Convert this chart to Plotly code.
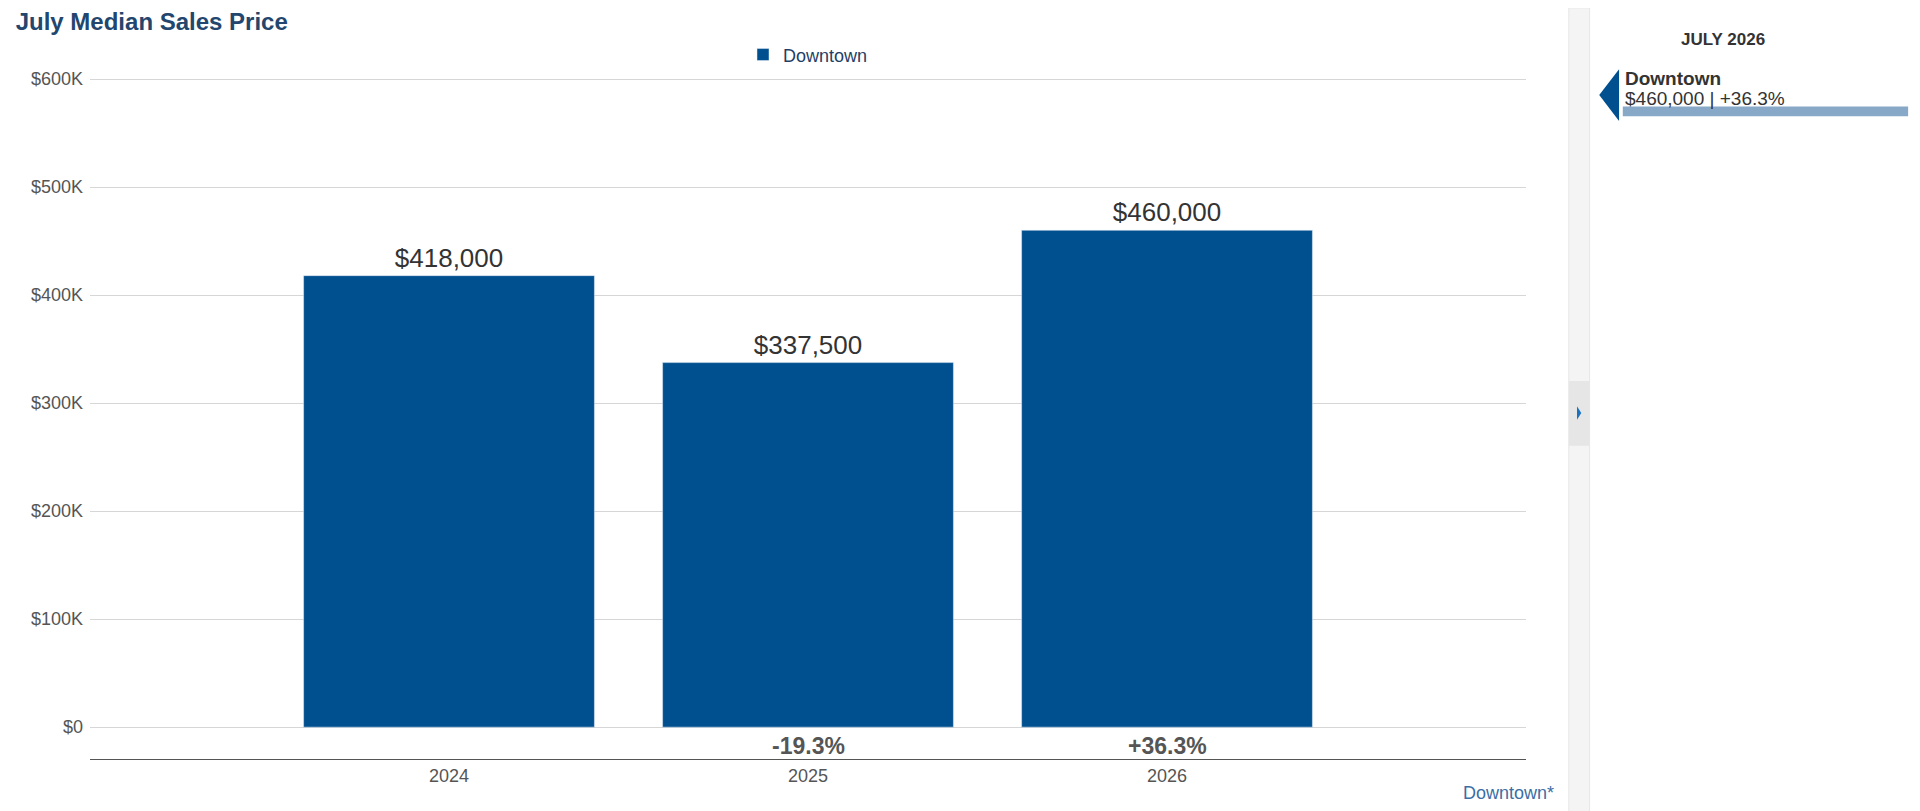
import plotly.graph_objects as go

# Data
years = ["2024", "2025", "2026"]
prices = [418000, 337500, 460000]
price_labels = ["$418,000", "$337,500", "$460,000"]
changes = ["", "-19.3%", "+36.3%"]
tick_vals = [0, 100000, 200000, 300000, 400000, 500000, 600000]
tick_text = ["$0", "$100K", "$200K", "$300K", "$400K", "$500K", "$600K"]

BLUE = "#004f8e"
FONT = "Liberation Sans, Arial, sans-serif"

fig = go.Figure()
fig.add_trace(go.Bar(
    x=[0, 1, 2], y=prices, name="Downtown", marker_color=BLUE, width=0.81,
    text=price_labels, textposition="outside", cliponaxis=False,
    textfont=dict(size=26, color="#333333"),
))

for i, c in enumerate(changes):
    if c:
        fig.add_annotation(x=i, y=-17000, text=f"<b>{c}</b>", showarrow=False,
                           font=dict(size=23, color="#555555"))

fig.update_layout(
    width=1920, height=811, plot_bgcolor="white", paper_bgcolor="white",
    margin=dict(l=82, r=402, t=70, b=60, autoexpand=False),
    font=dict(family=FONT, color="#555555"),
    showlegend=True,
    legend=dict(orientation="h", x=0.5, xanchor="center", y=1.034, yanchor="middle",
                font=dict(size=18, color="#1f3f66"), itemwidth=30),
    xaxis=dict(range=[-1, 3], tickvals=[0, 1, 2], ticktext=years,
               showline=True, linecolor="#555555", linewidth=1,
               tickfont=dict(size=18), ticks="", showgrid=False, zeroline=False),
    yaxis=dict(range=[-29500, 601000], tickvals=tick_vals, ticktext=tick_text,
               gridcolor="#d6d6d6", zeroline=False, tickfont=dict(size=18),
               ticklabelstandoff=6),
    title=dict(text="<b>July Median Sales Price</b>", x=0.004, xanchor="left",
               y=0.993, yanchor="top", font=dict(size=24, color="#23466e")),
)

# right panel
fig.add_shape(type="rect", xref="paper", yref="paper", x0=1.0298, x1=1.0443, y0=-0.09, y1=1.103,
              fillcolor="#f4f4f4", line=dict(color="#e6e6e6", width=1), layer="below")
fig.add_shape(type="rect", xref="paper", yref="paper", x0=1.0298, x1=1.0443, y0=0.46, y1=0.555,
              fillcolor="#e6e6e6", line_width=0)
fig.add_shape(type="path", xref="paper", yref="paper",
              path="M 1.0355 0.518 L 1.0355 0.498 L 1.0385 0.508 Z",
              fillcolor="#1a73c0", line_width=0)
fig.add_shape(type="path", xref="paper", yref="paper",
              path="M 1.0648 1.013 L 1.0648 0.937 L 1.051 0.975 Z",
              fillcolor=BLUE, line_width=0)
fig.add_shape(type="rect", xref="paper", yref="paper", x0=1.0674, x1=1.2661, y0=0.944, y1=0.958,
              fillcolor="#88a8c8", line_width=0)
fig.add_annotation(xref="paper", yref="paper", x=1.1675, y=1.073, text="<b>JULY 2026</b>",
                   showarrow=False, font=dict(size=17, color="#333333"))
fig.add_annotation(xref="paper", yref="paper", x=1.0674, y=1.018, xanchor="left",
                   text="<b>Downtown</b>", showarrow=False, font=dict(size=19, color="#333333"))
fig.add_annotation(xref="paper", yref="paper", x=1.0674, y=0.988, xanchor="left",
                   text="$460,000 | +36.3%", showarrow=False, font=dict(size=19, color="#333333"))
fig.add_annotation(xref="paper", yref="paper", x=1.021, y=-0.068, xanchor="right",
                   text="Downtown*", showarrow=False, font=dict(size=18, color="#3a6ea5"))

fig.write_html("out.html")
